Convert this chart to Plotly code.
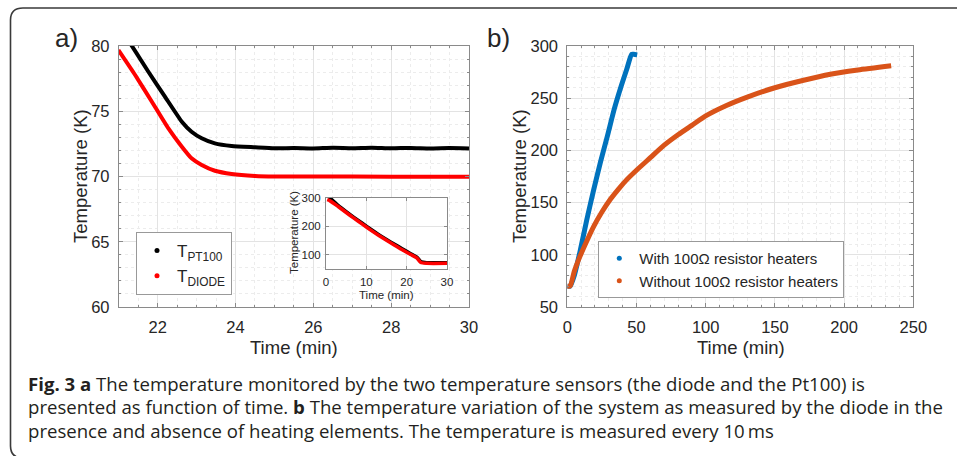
import plotly.graph_objects as go

# ---------------- data ----------------
# Panel a: zoom on the end of the cool-down
pt100_t = [21.32, 21.76, 22.19, 22.62, 22.87, 23.13, 23.47, 23.9, 24.5, 25.0, 25.5, 26.0, 26.5, 27.0, 27.5, 28.0, 28.5, 29.0, 29.5, 30.0]
pt100_T = [80.08, 78.03, 76.1, 74.2, 73.43, 72.93, 72.54, 72.34, 72.24, 72.16, 72.18, 72.15, 72.2, 72.17, 72.21, 72.16, 72.19, 72.15, 72.18, 72.15]
diode_t = [20.99, 21.42, 21.85, 22.27, 22.62, 22.87, 23.13, 23.47, 23.9, 24.5, 25.0, 26.0, 28.0, 30.0]
diode_T = [79.69, 77.78, 75.73, 73.7, 72.28, 71.39, 70.88, 70.44, 70.19, 70.04, 70.0, 70.0, 69.99, 69.99]

# Inset: full cool-down
inset_pt_t = [0.6, 1.2, 3, 5, 7, 9, 11, 13, 15, 17, 19, 21, 22.5, 23.6, 25, 30]
inset_pt_T = [300, 297, 274, 252, 231, 211, 191, 172, 154, 137, 120, 104, 92, 75, 72, 72]
inset_di_t = [0.3, 1, 3, 5, 7, 9, 11, 13, 15, 17, 19, 21, 22.5, 23.5, 25, 30]
inset_di_T = [294, 290, 270, 249, 228, 208, 188, 169, 151, 134, 117, 101, 89, 73, 70, 70]

# Panel b: warm-up
with_t = [0, 2, 5, 9, 14, 19, 24, 29, 34, 39, 43, 46.5, 48, 50.5]
with_T = [70, 70, 80, 102, 133, 162, 189, 214, 240, 262, 278, 292, 292, 291.5]
without_t = [0, 2, 5, 9, 14, 19, 25, 31, 37, 43, 50, 60, 70, 80, 90, 100, 115, 130, 150, 170, 190, 210, 234]
without_T = [70, 70, 84, 98, 113, 127, 141, 153, 163, 172, 181, 193, 205, 215, 224, 233, 243, 251, 260, 267, 273, 277, 281]

a_xticks = [22, 24, 26, 28, 30]
a_yticks = [60, 65, 70, 75, 80]
b_xticks = [0, 50, 100, 150, 200, 250]
b_yticks = [50, 100, 150, 200, 250, 300]
in_xticks = [0, 10, 20, 30]
in_yticks = [100, 200, 300]

caption_lines = [
    "<b>Fig. 3 a</b> The temperature monitored by the two temperature sensors (the diode and the Pt100) is",
    "presented as function of time. <b>b</b> The temperature variation of the system as measured by the diode in the",
    "presence and absence of heating elements. The temperature is measured every 10\u2009ms",
]

# ---------------- figure ----------------
W, H = 957, 456
FONT = "Liberation Sans, Arial, sans-serif"
TXT = "#262626"
AX = "#8a8a8a"
GRID = "#e3e3e3"
MINOR = "#ececec"


def px_x(p):
    return p / W


def px_y(p):
    return 1 - p / H


fig = go.Figure()

# panel a data
fig.add_trace(go.Scatter(x=pt100_t, y=pt100_T, mode="lines", line=dict(color="black", width=4, shape="spline", smoothing=0.5),
                         showlegend=False, xaxis="x", yaxis="y"))
fig.add_trace(go.Scatter(x=diode_t, y=diode_T, mode="lines", line=dict(color="#ff0000", width=4, shape="spline", smoothing=0.5),
                         showlegend=False, xaxis="x", yaxis="y"))
fig.add_trace(go.Scatter(x=[None], y=[None], mode="markers", marker=dict(color="black", size=5),
                         name="T<sub>PT100</sub>", legend="legend", xaxis="x", yaxis="y"))
fig.add_trace(go.Scatter(x=[None], y=[None], mode="markers", marker=dict(color="#ff0000", size=5),
                         name="T<sub>DIODE</sub>", legend="legend", xaxis="x", yaxis="y"))

# panel b data
fig.add_trace(go.Scatter(x=with_t, y=with_T, mode="lines", line=dict(color="#0072BD", width=5, shape="spline", smoothing=0.6),
                         showlegend=False, xaxis="x2", yaxis="y2"))
fig.add_trace(go.Scatter(x=without_t, y=without_T, mode="lines", line=dict(color="#D95319", width=5, shape="spline", smoothing=0.6),
                         showlegend=False, xaxis="x2", yaxis="y2"))
fig.add_trace(go.Scatter(x=[None], y=[None], mode="markers", marker=dict(color="#0072BD", size=5),
                         name="With 100\u03a9 resistor heaters", legend="legend2", xaxis="x2", yaxis="y2"))
fig.add_trace(go.Scatter(x=[None], y=[None], mode="markers", marker=dict(color="#D95319", size=5),
                         name="Without 100\u03a9 resistor heaters", legend="legend2", xaxis="x2", yaxis="y2"))

# inset data
fig.add_trace(go.Scatter(x=inset_pt_t, y=inset_pt_T, mode="lines",
                         line=dict(color="black", width=3.5, shape="spline", smoothing=0.6),
                         showlegend=False, xaxis="x3", yaxis="y3"))
fig.add_trace(go.Scatter(x=inset_di_t, y=inset_di_T, mode="lines",
                         line=dict(color="#ff0000", width=3.5, shape="spline", smoothing=0.6),
                         showlegend=False, xaxis="x3", yaxis="y3"))


def axis(domain, rng, ticks, minor_dtick, size=16, anchor=None, standoff=4):
    return dict(domain=domain, range=rng, tickvals=ticks, ticks="inside", ticklen=4,
                tickcolor=AX, showline=True, linecolor=AX, linewidth=1, mirror="ticks",
                showgrid=True, gridcolor=GRID, gridwidth=1, zeroline=False,
                tickfont=dict(family=FONT, size=size, color=TXT), anchor=anchor,
                ticklabelstandoff=standoff, automargin=False,
                minor=dict(dtick=minor_dtick, showgrid=True, gridcolor=MINOR, griddash="dot",
                           ticks="inside", ticklen=2, tickcolor=AX))


def inset_axis(domain, rng, ticks, anchor):
    return dict(domain=domain, range=rng, tickvals=ticks, ticks="inside", ticklen=3,
                tickcolor=AX, showline=True, linecolor=AX, mirror="ticks", showgrid=True,
                gridcolor=GRID, zeroline=False, tickfont=dict(family=FONT, size=11.5, color=TXT),
                anchor=anchor, ticklabelstandoff=2, automargin=False)


ya = [px_y(307), px_y(46)]
fig.update_layout(
    width=W, height=H, margin=dict(l=0, r=0, t=0, b=0, pad=0, autoexpand=False),
    paper_bgcolor="white", plot_bgcolor="white",
    xaxis=axis([px_x(118.8), px_x(469)], [21, 30], a_xticks, 0.5, size=16.5, anchor="y", standoff=5),
    yaxis=axis(ya, [60, 80], a_yticks, 1, size=16.5, anchor="x", standoff=5),
    xaxis2=axis([px_x(567.3), px_x(913.3)], [0, 250], b_xticks, 10, size=16.5, anchor="y2", standoff=5),
    yaxis2=axis(ya, [50, 300], b_yticks, 10, size=16.5, anchor="x2", standoff=5),
    xaxis3=inset_axis([px_x(326), px_x(447)], [0, 30], in_xticks, "y3"),
    yaxis3=inset_axis([px_y(269), px_y(198)], [50, 300], in_yticks, "x3"),
    legend=dict(x=px_x(136), y=px_y(232), xanchor="left", yanchor="top", bgcolor="white",
                bordercolor="#999999", borderwidth=1, font=dict(family=FONT, size=17, color=TXT),
                itemwidth=30, tracegroupgap=0),
    legend2=dict(x=px_x(598.3), y=px_y(241), xanchor="left", yanchor="top", bgcolor="white",
                 bordercolor="#999999", borderwidth=1, font=dict(family=FONT, size=15, color=TXT),
                 itemwidth=30, tracegroupgap=0),
)

# rounded outer frame
frame_path = "M 1.2,{t} L {x1},{t} Q {l},{t} {l},{y1} L {l},{y2} Q {l},{b} {x1},{b}".format(
    t=px_y(8), l=px_x(10.5), x1=px_x(23), y1=px_y(20), y2=px_y(446), b=px_y(458))
fig.add_shape(type="path", xref="paper", yref="paper", path=frame_path,
              line=dict(color="#3a3a3a", width=1.6))

ann = []


def text(x, y, s, size, **kw):
    d = dict(x=px_x(x), y=px_y(y), xref="paper", yref="paper", text=s, showarrow=False,
             font=dict(family=FONT, size=size, color=TXT), xanchor="center", yanchor="middle")
    d.update(kw)
    ann.append(d)


text(53, 38, "a)", 26, xanchor="left")
text(485, 38, "b)", 26, xanchor="left")
text(80, 176, "Temperature (K)", 18.5, textangle=-90)
text(294, 347, "Time (min)", 18.5)
text(519, 176, "Temperature (K)", 18.5, textangle=-90)
text(740.5, 347, "Time (min)", 18.5)
text(294, 233, "Temperature (K)", 11.5, textangle=-90)
text(386.5, 295, "Time (min)", 11.5)

cap_font = "Open Sans, sans-serif"
for i, line in enumerate(caption_lines):
    ann.append(dict(x=px_x(26), y=px_y(383 + 23.5 * i), xref="paper", yref="paper", text=line,
                    showarrow=False, xanchor="left", yanchor="middle",
                    font=dict(family=cap_font, size=18.6, color="#231f20")))
fig.update_layout(annotations=ann)

fig.write_html("out.html", config={"displayModeBar": False},
               post_script="document.body.style.margin='0';document.body.style.overflow='hidden';")
